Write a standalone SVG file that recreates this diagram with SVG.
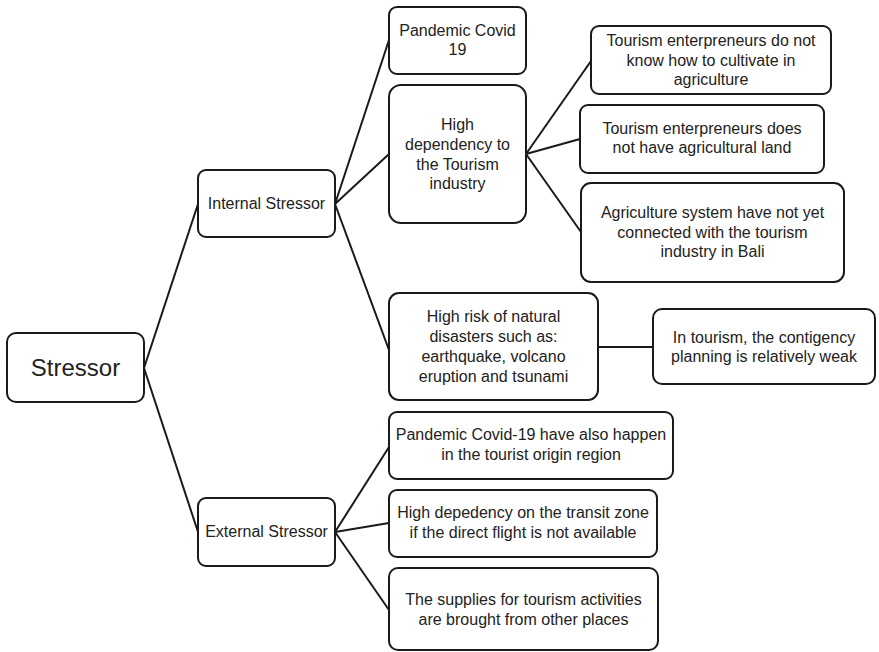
<svg xmlns="http://www.w3.org/2000/svg" width="879" height="652" viewBox="0 0 879 652">
<style>
.box{fill:#fff;stroke:#1a1a1a;stroke-width:2}
.t{font-family:"Liberation Sans",Arial,sans-serif;font-size:16px;fill:#222;text-anchor:middle}
.big{font-size:24px}
.c line{stroke:#1a1a1a;stroke-width:2}
</style>
<rect width="879" height="652" fill="#fff"/>
<g class="c" id="connectors">
<line x1="144" y1="368" x2="198" y2="204"/>
<line x1="144" y1="368" x2="198" y2="532"/>
<line x1="335" y1="204" x2="389" y2="40"/>
<line x1="335" y1="204" x2="389" y2="154"/>
<line x1="335" y1="204" x2="389" y2="350"/>
<line x1="526" y1="154" x2="591" y2="61"/>
<line x1="526" y1="154" x2="580" y2="139"/>
<line x1="526" y1="154" x2="581" y2="232"/>
<line x1="598" y1="347" x2="653" y2="347"/>
<line x1="335" y1="532" x2="389" y2="447"/>
<line x1="335" y1="532" x2="389" y2="523"/>
<line x1="335" y1="532" x2="389" y2="610"/>
</g>
<g id="stressor"><rect class="box" x="7" y="333" width="137" height="69" rx="9"/><text class="t big" x="75.5" y="376">Stressor</text></g>
<g id="internal"><rect class="box" x="198" y="170" width="137" height="67" rx="8"/><text class="t" x="266.5" y="209">Internal Stressor</text></g>
<g id="pandemic19"><rect class="box" x="389" y="7" width="137" height="67" rx="8"/><text class="t" x="457.5" y="36">Pandemic Covid</text><text class="t" x="457.5" y="55">19</text></g>
<g id="dependency"><rect class="box" x="389" y="85" width="137" height="138" rx="12"/><text class="t" x="457.5" y="130">High</text><text class="t" x="457.5" y="150">dependency to</text><text class="t" x="457.5" y="170">the Tourism</text><text class="t" x="457.5" y="189">industry</text></g>
<g id="cultivate"><rect class="box" x="591" y="26" width="240" height="68" rx="8"/><text class="t" x="711" y="46">Tourism enterpreneurs do not</text><text class="t" x="711" y="66">know how to cultivate in</text><text class="t" x="711" y="85">agriculture</text></g>
<g id="land"><rect class="box" x="580" y="105" width="244" height="68" rx="8"/><text class="t" x="702" y="134">Tourism enterpreneurs does</text><text class="t" x="702" y="153">not have agricultural land</text></g>
<g id="agrisystem"><rect class="box" x="581" y="183" width="263" height="99" rx="10"/><text class="t" x="712.5" y="218">Agriculture system have not yet</text><text class="t" x="712.5" y="238">connected with the tourism</text><text class="t" x="712.5" y="257">industry in Bali</text></g>
<g id="disaster"><rect class="box" x="389" y="293" width="209" height="107" rx="10"/><text class="t" x="493.5" y="322">High risk of natural</text><text class="t" x="493.5" y="342">disasters such as:</text><text class="t" x="493.5" y="362">earthquake, volcano</text><text class="t" x="493.5" y="382">eruption and tsunami</text></g>
<g id="contingency"><rect class="box" x="653" y="309" width="222" height="75" rx="9"/><text class="t" x="764" y="343">In tourism, the contigency</text><text class="t" x="764" y="362">planning is relatively weak</text></g>
<g id="external"><rect class="box" x="198" y="498" width="137" height="68" rx="8"/><text class="t" x="266.5" y="537">External Stressor</text></g>
<g id="origin"><rect class="box" x="389" y="412" width="284" height="67" rx="8"/><text class="t" x="531" y="440">Pandemic Covid-19 have also happen</text><text class="t" x="531" y="460">in the tourist origin region</text></g>
<g id="transit"><rect class="box" x="389" y="490" width="268" height="67" rx="8"/><text class="t" x="523" y="518">High depedency on the transit zone</text><text class="t" x="523" y="538">if the direct flight is not available</text></g>
<g id="supplies"><rect class="box" x="389" y="568" width="269" height="82" rx="9"/><text class="t" x="523.5" y="605">The supplies for tourism activities</text><text class="t" x="523.5" y="625">are brought from other places</text></g>
</svg>
